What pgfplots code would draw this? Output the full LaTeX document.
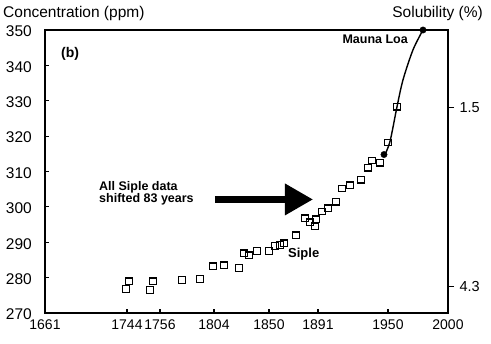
\documentclass[border=0pt]{standalone}
\usepackage{pgfplots}
\pgfplotsset{compat=1.18}
\usepackage{pgfplotstable}
\usepackage{fontspec}
\setmainfont{Liberation Sans}
\usetikzlibrary{arrows.meta}
\pgfplotstableread{
x y
126 276.8
129 279.0
150 276.5
153 279.0
182 279.3
200 279.6
213 283.2
224 283.5
239 282.7
244 286.9
249 286.3
257 287.5
269 287.5
275 288.9
280 289.2
284 289.7
296 292.0
305 296.8
310 295.6
315 294.5
316 296.5
322 298.7
328 299.6
336 301.5
342 305.2
350 306.1
361 307.7
368 311.1
372 313.1
380 312.5
388 318.2
397 328.3
}\siple
\pgfplotstableread{
x y
384 314.2
390 318.5
397 328.3
403 335.9
413 344.4
423 350
}\mauna
\begin{document}
\begin{tikzpicture}
\begin{axis}[
  scale only axis, width=403pt, height=283pt,
  xmin=45, xmax=448, ymin=270, ymax=350,
  xtick={45,127,160,214,269,318,388,448},
  xticklabels={1661,1744,1756,1804,1850,1891,1950,2000},
  ytick={270,280,...,350},
  xtick pos=bottom, ytick pos=left,
  tick align=inside, major tick length=4pt,
  axis line style={line width=1.6pt},
  tick style={black, line width=1.2pt},
  xticklabel style={font=\fontsize{14}{15}\selectfont, inner sep=1pt, yshift=-6pt},
  yticklabel style={font=\fontsize{15.5}{16}\selectfont, inner sep=1pt, xshift=-12pt, yshift=-1.5pt},
  /pgf/number format/assume math mode=true,
  clip=false,
]
\addplot[smooth, line width=1.4pt, black] table[x=x,y=y] {\mauna};
\addplot[only marks, mark=square, mark size=3.3pt,
  mark options={line width=1.3pt, rounded corners=1pt, draw=black, fill=white}]
  table[x=x,y=y] {\siple};
\addplot[only marks, mark=*, mark size=3.2pt, black] coordinates {(384,314.8) (423,350)};
\node[anchor=base west, inner sep=0, font=\bfseries\fontsize{14}{16}\selectfont] at (axis cs:61,342.1) {(b)};
\node[anchor=base east, inner sep=0, font=\bfseries\fontsize{12.5}{14}\selectfont] at (axis cs:408,346.2) {Mauna Loa};
\node[anchor=base west, inner sep=0, font=\bfseries\fontsize{12.5}{14}\selectfont] at (axis cs:99,304.7) {All Siple data};
\node[anchor=base west, inner sep=0, font=\bfseries\fontsize{12.5}{14}\selectfont] at (axis cs:99,301.3) {shifted 83 years};
\node[anchor=base west, inner sep=0, font=\bfseries\fontsize{13}{15}\selectfont] at (axis cs:288,285.8) {Siple};
\draw[line width=6.5pt, -{Triangle[length=28pt, width=30pt]}] (axis cs:215,302.1) -- (axis cs:313,302.1);
\end{axis}
\begin{axis}[
  scale only axis, width=403pt, height=283pt,
  xmin=45, xmax=448, ymin=270, ymax=350,
  axis x line=none, axis y line*=right,
  ytick={328,277.6}, yticklabels={1.5,4.3},
  tick align=outside, major tick length=6pt,
  axis line style={line width=1.6pt},
  tick style={black, line width=1.2pt},
  yticklabel style={font=\fontsize{14.5}{16}\selectfont, xshift=2pt},
]
\end{axis}
\node[anchor=base west, inner sep=0, font=\fontsize{15.5}{17}\selectfont] at (-42pt,295.7pt) {Concentration (ppm)};
\node[anchor=base east, inner sep=0, font=\fontsize{15.5}{17}\selectfont] at (438pt,295.7pt) {Solubility (\%)};
\pgfresetboundingbox
\path[use as bounding box] (-45pt,-31pt) rectangle (446pt,313pt);
\end{tikzpicture}
\end{document}
